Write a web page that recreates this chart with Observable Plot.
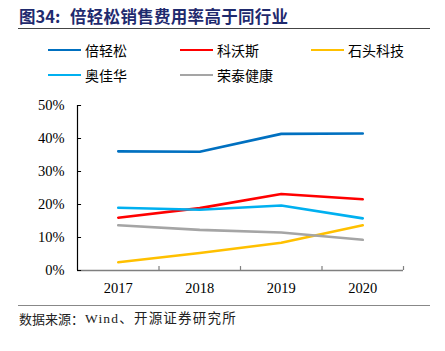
<!DOCTYPE html>
<html><head><meta charset="utf-8">
<script src="https://cdn.jsdelivr.net/npm/d3@7"></script>
<script src="https://cdn.jsdelivr.net/npm/@observablehq/plot@0.6"></script>
<style>
body{margin:0;background:#fff;}
#wrap{position:relative;width:445px;height:351px;overflow:hidden;background:#fff;}
#wrap svg{position:absolute;left:0;top:0;}
.t{position:absolute;white-space:nowrap;}
</style></head><body>
<div id="wrap"></div>
<script>
const years = [2017, 2018, 2019, 2020];
const seriesNames = ["倍轻松", "科沃斯", "石头科技", "奥佳华", "荣泰健康"];
const seriesColors = ["#0070C0", "#FF0000", "#FFC000", "#00B0F0", "#A5A5A5"];
const beiqingsong = [36.1, 36.0, 41.4, 41.5];
const kewosi = [16.0, 18.9, 23.2, 21.6];
const shitou = [2.5, 5.3, 8.4, 13.7];
const aojiahua = [19.0, 18.4, 19.7, 15.8];
const rongtai = [13.7, 12.3, 11.5, 9.3];
const yTicks = [0, 10, 20, 30, 40, 50];
const titleLabel = "图34:";
const titleText = "倍轻松销售费用率高于同行业";
const sourceLabel = "数据来源：";
const sourceText = "Wind、开源证券研究所";

const allValues = [beiqingsong, kewosi, shitou, aojiahua, rongtai];
const data = [];
seriesNames.forEach((s, i) => years.forEach((y, j) => data.push({series: s, year: y, value: allValues[i][j]})));
const bounds = years.map(y => y + 0.5);

const serif = "'Liberation Serif', 'Times New Roman', serif";
const plot = Plot.plot({
  width: 445, height: 351,
  marginLeft: 77, marginRight: 42, marginTop: 105, marginBottom: 81,
  style: {fontFamily: serif, fontSize: "14px", color: "#000", background: "transparent"},
  x: {type: "linear", domain: [2016.5, 2020.5], axis: null},
  y: {domain: [0, 50], axis: null},
  color: {domain: seriesNames, range: seriesColors},
  marks: [
    Plot.line(data, {x: "year", y: "value", z: "series", stroke: "series", strokeWidth: 2.6}),
    Plot.ruleY([0], {stroke: "#7f7f7f", strokeWidth: 1.3}),
    Plot.ruleX([2016.5], {stroke: "#000", strokeWidth: 1.2}),
    Plot.ruleX(bounds, {x: d => d, y1: 0, y2: 1.2, stroke: "#7f7f7f", strokeWidth: 1.2}),
    Plot.ruleY(yTicks, {y: d => d, x1: 2016.5, x2: 2016.55, stroke: "#000", strokeWidth: 1}),
    Plot.text(yTicks, {x: 2016.5, y: d => d, text: d => d + "%", textAnchor: "end", dx: -13, fontSize: 14.5, fill: "#000"}),
    Plot.text(years, {x: d => d, y: 0, text: d => String(d), dy: 18, fontSize: 14.5, fill: "#000"})
  ]
});
const wrap = document.getElementById("wrap");
wrap.appendChild(plot);

function addText(txt, left, top, css) {
  const d = document.createElement("div");
  d.className = "t";
  d.textContent = txt;
  d.style.left = left + "px";
  d.style.top = top + "px";
  Object.assign(d.style, css || {});
  wrap.appendChild(d);
  return d;
}
function addRule(left, top, w, h, color) {
  const d = document.createElement("div");
  d.className = "t";
  Object.assign(d.style, {left: left + "px", top: top + "px", width: w + "px", height: h + "px", background: color});
  wrap.appendChild(d);
}
const cjk = "'Noto Sans CJK SC', sans-serif";
const titleCss = {fontFamily: cjk, fontWeight: "bold", fontSize: "16.5px", color: "#1f2a6e", lineHeight: "22px"};
addText(titleLabel, 19, 5, titleCss);
addText(titleText, 70, 5, Object.assign({}, titleCss, {letterSpacing: "0.3px"}));
addRule(18, 28, 412, 1.2, "#444");
addRule(18, 305, 412, 1.2, "#888");
addText(sourceLabel, 19, 310, {fontFamily: cjk, fontSize: "13px", color: "#222", lineHeight: "18px"});
addText(sourceText, 85, 310, {fontFamily: "'Liberation Serif', 'Noto Sans CJK SC', serif", fontSize: "13.5px", color: "#222", lineHeight: "18px", letterSpacing: "1.2px"});

const legendPos = [[48, 50], [180, 50], [311, 50], [48, 75], [180, 75]];
seriesNames.forEach((s, i) => {
  const [lx, ly] = legendPos[i];
  addRule(lx, ly - 1.3, 33, 2.6, seriesColors[i]);
  addText(s, lx + 37, ly - 10, {fontFamily: cjk, fontSize: "14px", color: "#000", lineHeight: "20px"});
});
</script>
</body></html>
